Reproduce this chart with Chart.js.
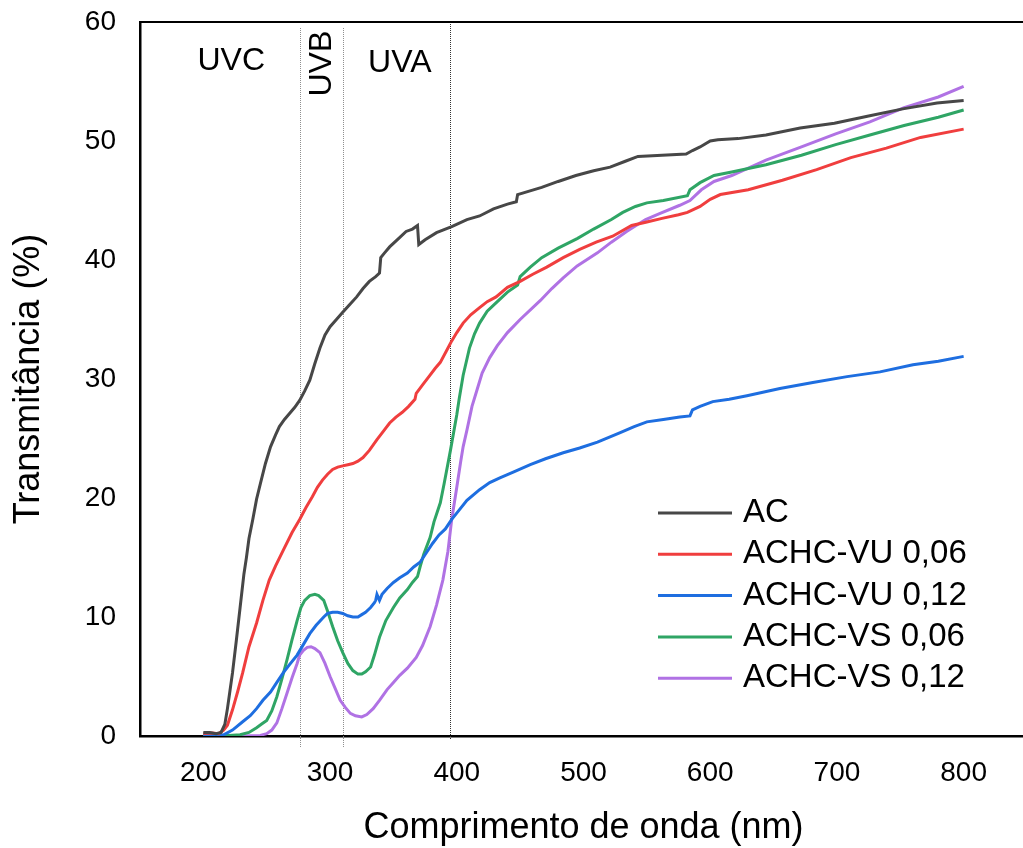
<!DOCTYPE html>
<html><head><meta charset="utf-8">
<script src="https://cdn.jsdelivr.net/npm/chart.js@4.4.0/dist/chart.umd.min.js"></script>
<style>
html,body{margin:0;padding:0;background:#fff;overflow:hidden;width:1023px;height:848px;}
#wrap{position:relative;width:1040px;height:848px;}
</style></head><body>
<div id="wrap"><canvas id="c" width="1040" height="848"></canvas></div>
<script>
// ---------- data ----------
const xTicks = [200, 300, 400, 500, 600, 700, 800];
const yTicks = [0, 10, 20, 30, 40, 50, 60];
const seriesLabels = ['AC', 'ACHC-VU 0,06', 'ACHC-VU 0,12', 'ACHC-VS 0,06', 'ACHC-VS 0,12'];

const acNm = [200,205,210,214,217,219,221,223,226,229,232,234,236,239,242,245,249,253,257,260,264,268,272,276,280,284,288,292,296,300,305,310,315,321,326,331,336,339,340,343,347,354,360,365,369,370,375,384,396,408,418,429,440,447,448,467,480,494,508,521,533,543,562,581,586,592,600,606,622,644,671,698,725,752,779,800];
const acT  = [0.3,0.3,0.2,0.3,1.0,2.3,3.8,5.3,8.0,10.8,13.6,15.0,16.6,18.2,19.9,21.2,22.9,24.3,25.3,26.0,26.6,27.1,27.6,28.2,29.0,29.9,31.3,32.6,33.7,34.4,35.0,35.6,36.2,36.9,37.6,38.2,38.6,38.9,40.2,40.6,41.1,41.8,42.4,42.6,42.9,41.3,41.7,42.3,42.8,43.4,43.7,44.3,44.7,44.9,45.5,46.1,46.6,47.1,47.5,47.8,48.3,48.7,48.8,48.9,49.2,49.5,50.0,50.1,50.2,50.5,51.1,51.5,52.1,52.7,53.2,53.4];

const vu06Nm = [200,207,212,216,219,223,227,231,236,242,247,252,257,263,270,276,281,286,290,294,298,302,306,310,314,318,322,326,331,337,342,347,352,357,362,367,368,373,378,383,387,392,396,400,405,411,418,424,431,440,450,460,471,484,497,510,523,538,550,562,575,582,592,600,608,630,657,684,711,739,766,800];
const vu06T  = [0.2,0.25,0.2,0.5,0.9,2.2,3.7,5.3,7.5,9.5,11.4,13.1,14.3,15.6,17.1,18.2,19.2,20.1,20.9,21.5,22.0,22.4,22.6,22.7,22.8,22.9,23.1,23.4,24.0,24.9,25.6,26.3,26.8,27.2,27.7,28.3,28.8,29.5,30.2,30.9,31.4,32.4,33.2,33.9,34.7,35.4,36.0,36.5,36.9,37.7,38.2,38.8,39.4,40.2,40.9,41.5,42.0,42.9,43.2,43.5,43.8,44.0,44.5,45.1,45.5,45.9,46.7,47.6,48.6,49.4,50.3,51.0];

const vu12Nm = [200,210,216,223,231,237,242,247,253,258,263,268,274,279,284,289,295,298,302,306,310,314,318,322,325,328,332,335,336,337,339,341,345,350,355,361,366,371,376,381,386,391,396,402,408,418,426,434,445,458,470,484,497,511,520,529,540,550,563,576,584,586,592,602,615,629,655,681,708,734,760,780,800];
const vu12T  = [0.1,0.05,0.1,0.5,1.2,1.7,2.3,3.0,3.7,4.5,5.3,6.0,6.8,7.7,8.6,9.3,10.0,10.3,10.4,10.4,10.3,10.1,10.0,10.0,10.2,10.4,10.8,11.2,11.4,11.9,11.4,11.9,12.4,12.9,13.3,13.7,14.2,14.6,15.4,16.2,16.9,17.4,18.2,19.0,19.8,20.7,21.3,21.7,22.2,22.8,23.3,23.8,24.2,24.7,25.1,25.5,26.0,26.4,26.6,26.8,26.9,27.4,27.7,28.1,28.3,28.6,29.2,29.7,30.2,30.6,31.2,31.5,31.9];

const vs06Nm = [200,220,229,236,242,246,250,254,258,262,266,270,274,277,280,284,288,291,295,298,302,306,310,314,318,322,325,328,332,335,339,344,350,355,361,365,369,371,374,379,382,387,390,395,398,400,402,405,410,414,418,424,432,440,448,450,458,467,480,495,508,522,531,541,550,563,582,584,592,603,617,644,672,699,726,753,780,800];
const vs06T  = [0.05,0.05,0.1,0.3,0.7,1.0,1.3,2.1,3.3,4.8,6.4,8.1,9.7,10.8,11.4,11.8,11.9,11.8,11.4,10.5,9.2,8.0,7.0,6.1,5.5,5.2,5.2,5.4,5.8,6.8,8.3,9.7,10.8,11.6,12.3,12.9,13.4,14.2,15.3,16.7,18.0,19.6,21.2,24.0,25.8,27.0,28.4,30.3,32.6,33.8,34.7,35.7,36.5,37.3,37.9,38.6,39.4,40.2,41.0,41.8,42.6,43.4,44.0,44.5,44.8,45.0,45.4,45.9,46.5,47.1,47.4,48.0,48.8,49.7,50.5,51.3,52.0,52.6];

const vs12Nm = [200,230,245,250,254,258,262,266,270,274,276,279,282,285,288,292,296,300,304,308,312,316,320,325,329,334,339,345,350,355,361,368,373,379,384,389,393,396,400,403,405,408,412,416,420,426,432,440,450,466,475,484,495,511,522,534,549,560,576,584,593,603,617,644,672,699,726,753,780,800];
const vs12T  = [0.0,0.0,0.05,0.2,0.5,1.1,2.3,3.6,4.9,6.1,6.8,7.2,7.45,7.5,7.35,7.0,6.1,5.0,4.0,3.0,2.4,1.9,1.7,1.6,1.8,2.3,3.0,3.9,4.5,5.1,5.7,6.6,7.6,9.2,11.0,13.1,15.5,18.2,20.9,23.0,24.3,25.7,27.7,29.1,30.5,31.8,32.8,33.9,35.0,36.6,37.6,38.5,39.5,40.6,41.5,42.4,43.4,43.9,44.6,45.0,45.9,46.6,47.1,48.4,49.5,50.6,51.6,52.8,53.7,54.6];

// UV region boundaries (nm) and region names with their label anchor (nm, %)
const regionBounds = [276, 310, 395];
const regionNames = ['UVC', 'UVB', 'UVA'];
const regionLabelNm = [222, 293.5, 355];
const regionLabelT = [56.7, 56.5, 56.5];

// ---------- styles ----------
const FONT = '"Liberation Sans", Arial, sans-serif';
const colors = ['#474747', '#F03E3E', '#1E6EE0', '#2FA565', '#B072E4'];

const xs = [acNm, vu06Nm, vu12Nm, vs06Nm, vs12Nm];
const ys = [acT, vu06T, vu12T, vs06T, vs12T];

const datasets = seriesLabels.map((lab, i) => ({
  label: lab,
  data: xs[i].map((v, k) => ({x: v, y: ys[i][k]})).filter(p => p.y !== undefined),
  borderColor: colors[i],
  backgroundColor: colors[i],
  borderWidth: 3,
  pointRadius: 0,
  tension: 0,
  fill: false
}));

const annot = {
  id: 'annot',
  beforeDatasetsDraw(chart) {
    const {ctx, chartArea: a, scales: {x}} = chart;
    ctx.save();
    ctx.lineWidth = 1;
    ctx.setLineDash([1, 1]);
    regionBounds.forEach((nm, i) => {
      const px = Math.round(x.getPixelForValue(nm)) + 0.5;
      ctx.strokeStyle = i < 2 ? '#8f8f8f' : '#333';
      const top = i < 2 ? a.top + 6 : a.top;
      const bot = i < 2 ? a.bottom + 12 : a.bottom + 4;
      ctx.beginPath(); ctx.moveTo(px, top); ctx.lineTo(px, bot); ctx.stroke();
    });
    ctx.restore();
  },
  afterDraw(chart) {
    const {ctx, chartArea: a, scales: {x, y}} = chart;
    ctx.save();
    // top frame line
    ctx.strokeStyle = '#000'; ctx.lineWidth = 2;
    ctx.beginPath(); ctx.moveTo(a.left - 1, a.top); ctx.lineTo(chart.width, a.top); ctx.stroke();
    // region labels
    ctx.fillStyle = '#000';
    ctx.font = '32px ' + FONT;
    ctx.textAlign = 'center'; ctx.textBaseline = 'middle';
    regionNames.forEach((t, i) => {
      const px = x.getPixelForValue(regionLabelNm[i]);
      const py = y.getPixelForValue(regionLabelT[i]);
      if (t === 'UVB') {
        ctx.save(); ctx.translate(px, py); ctx.rotate(-Math.PI / 2);
        ctx.fillText(t, 0, 0); ctx.restore();
      } else {
        ctx.fillText(t, px, py);
      }
    });
    // legend
    ctx.textAlign = 'left';
    ctx.font = '33px ' + FONT;
    chart.data.datasets.forEach((ds, i) => {
      const ly = 513 + i * 41.3;
      ctx.strokeStyle = ds.borderColor; ctx.lineWidth = 3;
      ctx.beginPath(); ctx.moveTo(658, ly); ctx.lineTo(732, ly); ctx.stroke();
      ctx.fillStyle = '#000';
      ctx.fillText(ds.label, 743, ly);
    });
    ctx.restore();
  }
};

new Chart(document.getElementById('c'), {
  type: 'line',
  data: {datasets},
  plugins: [annot],
  options: {
    responsive: false,
    animation: false,
    devicePixelRatio: 1,
    layout: {padding: {top: 22, right: 13, left: 0, bottom: 0}},
    plugins: {legend: {display: false}, tooltip: {enabled: false}},
    scales: {
      x: {
        type: 'linear', min: 150, max: 850,
        afterBuildTicks: s => { s.ticks = xTicks.map(v => ({value: v})); },
        afterFit: s => { s.height = 112; s.paddingLeft = 0; s.paddingRight = 0; },
        grid: {display: true, drawOnChartArea: false, drawTicks: false, color: 'rgba(0,0,0,0)'},
        border: {display: true, color: '#000', width: 2.5},
        ticks: {font: {family: FONT, size: 28}, color: '#000', padding: 20, maxRotation: 0},
        title: {display: true, text: 'Comprimento de onda (nm)', color: '#000',
                font: {family: FONT, size: 36}, padding: {top: 0, bottom: -2}}
      },
      y: {
        min: 0, max: 60,
        afterBuildTicks: s => { s.ticks = yTicks.map(v => ({value: v})); },
        afterFit: s => { s.width = 140; s.paddingTop = 0; s.paddingBottom = 0; },
        grid: {display: true, drawOnChartArea: false, drawTicks: false, color: 'rgba(0,0,0,0)'},
        border: {display: true, color: '#000', width: 2.5},
        ticks: {font: {family: FONT, size: 28}, color: '#000', padding: 24},
        title: {display: true, text: 'Transmitância (%)', color: '#000',
                font: {family: FONT, size: 36}, padding: {top: 7, bottom: 0}}
      }
    }
  }
});
</script>
</body></html>
